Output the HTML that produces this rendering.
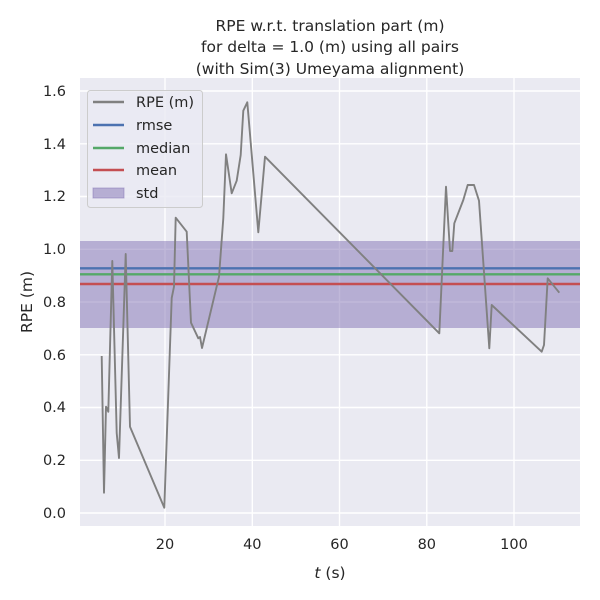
<!DOCTYPE html>
<html><head><meta charset="utf-8"><style>
body{margin:0;background:#fff;}
svg{display:block;font-family:"DejaVu Sans","Liberation Sans",sans-serif;}
</style></head><body>
<svg width="600" height="600" viewBox="0 0 600 600">
<rect x="80" y="78" width="500" height="448" fill="#EAEAF2"/>
<g stroke="#fff" stroke-width="1.4">
<line x1="165" y1="78" x2="165" y2="526"/><line x1="252.3" y1="78" x2="252.3" y2="526"/><line x1="339.5" y1="78" x2="339.5" y2="526"/><line x1="426.8" y1="78" x2="426.8" y2="526"/><line x1="514" y1="78" x2="514" y2="526"/>
<line x1="80" y1="513" x2="580" y2="513"/><line x1="80" y1="460.3" x2="580" y2="460.3"/><line x1="80" y1="407.5" x2="580" y2="407.5"/><line x1="80" y1="354.8" x2="580" y2="354.8"/><line x1="80" y1="302" x2="580" y2="302"/><line x1="80" y1="249.3" x2="580" y2="249.3"/><line x1="80" y1="196.5" x2="580" y2="196.5"/><line x1="80" y1="143.8" x2="580" y2="143.8"/><line x1="80" y1="91" x2="580" y2="91"/>
</g>
<rect x="80" y="241" width="500" height="87" fill="#8172B3" fill-opacity="0.5"/>
<line x1="80" y1="268.3" x2="580" y2="268.3" stroke="#4C72B0" stroke-width="2.4"/>
<line x1="80" y1="274.3" x2="580" y2="274.3" stroke="#55A868" stroke-width="2.4"/>
<line x1="80" y1="284" x2="580" y2="284" stroke="#C44E52" stroke-width="2.4"/>
<polyline fill="none" stroke="#808080" stroke-width="1.9" stroke-linejoin="round" points="101.7,356 104,492.7 106,406.7 108.3,411.7 112.3,261 116.7,433 119,458 125.7,254 130,426.7 164.3,507.7 171.7,298 174,286.7 175.7,217.7 186.7,231.7 191,322.7 198.3,338.3 200,337 202,348 219,276.7 223.3,218.3 226,154.3 231.7,193.3 236.7,180.7 240.7,155 243.3,110.7 247.3,102.3 258.3,232.3 265,156.7 439.3,333.3 446,186.7 450,251 452.3,251 454.3,223.3 463.3,200 467.7,185 474,185 479,200.7 489.3,348.3 491.7,305 541.7,351.7 544,345 547.7,278.3 559.3,292.7"/>
<g font-size="14.5" fill="#262626" text-anchor="end">
<text x="66" y="518">0.0</text><text x="66" y="465">0.2</text><text x="66" y="412">0.4</text><text x="66" y="360">0.6</text><text x="66" y="307">0.8</text><text x="66" y="254">1.0</text><text x="66" y="201">1.2</text><text x="66" y="149">1.4</text><text x="66" y="96">1.6</text>
</g>
<g font-size="14.5" fill="#262626" text-anchor="middle">
<text x="165" y="549">20</text><text x="252.3" y="549">40</text><text x="339.5" y="549">60</text><text x="426.8" y="549">80</text><text x="514" y="549">100</text>
<text x="330" y="578" font-size="15.5"><tspan font-style="italic">t</tspan> (s)</text>
<text x="330" y="31" font-size="15.5">RPE w.r.t. translation part (m)</text>
<text x="330" y="52" font-size="15.5">for delta = 1.0 (m) using all pairs</text>
<text x="330" y="74" font-size="15.5">(with Sim(3) Umeyama alignment)</text>
</g>
<text transform="translate(32,302) rotate(-90)" font-size="15.5" fill="#262626" text-anchor="middle">RPE (m)</text>
<rect x="87.5" y="90.5" width="115" height="117" rx="3" fill="#EAEAF2" fill-opacity="0.8" stroke="#ccc"/>
<g stroke-width="2.4">
<line x1="93" y1="102" x2="124" y2="102" stroke="#808080"/>
<line x1="93" y1="125" x2="124" y2="125" stroke="#4C72B0"/>
<line x1="93" y1="148" x2="124" y2="148" stroke="#55A868"/>
<line x1="93" y1="170" x2="124" y2="170" stroke="#C44E52"/>
</g>
<rect x="93" y="188" width="31" height="10" fill="#8172B3" fill-opacity="0.5" stroke="#8172B3" stroke-opacity="0.5"/>
<g font-size="14.5" fill="#262626">
<text x="136" y="107">RPE (m)</text><text x="136" y="130">rmse</text><text x="136" y="153">median</text><text x="136" y="175">mean</text><text x="136" y="198">std</text>
</g>
</svg>
</body></html>
